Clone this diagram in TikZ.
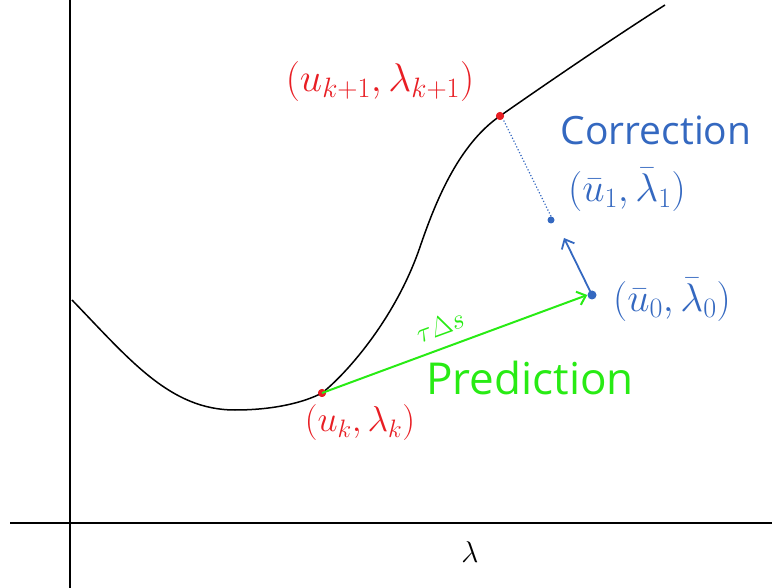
\RequirePackage{fix-cm}
\documentclass[tikz,border=0pt]{standalone}
\usepackage{fontspec}
\setmainfont{Open Sans}
\usetikzlibrary{arrows.meta}
\definecolor{hred}{RGB}{232,30,36}
\definecolor{hblue}{RGB}{52,104,192}
\definecolor{hgreen}{RGB}{40,235,20}
\tikzset{
  axisline/.style={line width=2.6pt,black},
  curveline/.style={line width=1.5pt,black},
  ptdot/.style={circle,fill,inner sep=0pt,minimum size=8pt},
  fs/.style={font=\fontsize{#1}{#1}\selectfont},
}
\begin{document}
\begin{tikzpicture}[x=1pt,y=-1pt]
\useasboundingbox (0,0) rectangle (772,588);
% axes
\coordinate (yt) at (70,0);
\coordinate (yb) at (70,588);
\coordinate (xl) at (10,523);
\coordinate (xr) at (772,523);
\draw[axisline] (yt) -- (yb);
\draw[axisline] (xl) -- (xr);
\node[fs=30] (lam) at (470,552) {$\lambda$};
% points
\node[ptdot,hred] (pk) at (322,393) {};
\node[ptdot,hred] (pk1) at (500,116) {};
\node[ptdot,hblue,minimum size=9pt] (p0) at (592,295) {};
\node[ptdot,hblue,minimum size=7pt] (p1) at (551,220) {};
% curve
\coordinate (c0) at (72,300);
\coordinate (cmin) at (235,410);
\coordinate (cmid) at (420,247);
\coordinate (cend) at (665,5);
\draw[curveline] (c0) .. controls (130,360) and (170,410) .. (cmin)
  .. controls (275,410) and (305,402) .. (pk.center)
  .. controls (345,375) and (395,320) .. (cmid)
  .. controls (435,203) and (458,145) .. (pk1.center)
  .. controls (540,88) and (610,40) .. (cend);
\node[ptdot,hred] at (pk) {};
\node[ptdot,hred] at (pk1) {};
% prediction
\draw[hgreen,line width=2pt,-{Straight Barb[length=8pt,width=14pt]}] (pk.center) -- (p0.west);
\node[hgreen,fs=28,rotate=20] (tds) at (440,326) {$\tau\Delta s$};
\node[hgreen,fs=44] (pred) at (530,378) {Prediction};
% correction
\draw[hblue,line width=1.8pt,-{Straight Barb[length=8pt,width=14pt]}] (p0.center) -- (564,238);
\draw[hblue,line width=1.2pt,dotted] (p1.north) -- (pk1.south east);
\node[hblue,fs=39] (corr) at (656,130) {Correction};
\node[hblue,fs=40] (l1) at (627,190) {$(\bar u_1,\bar\lambda_1)$};
\node[hblue,fs=40] (l0) at (672,300) {$(\bar u_0,\bar\lambda_0)$};
% red labels
\node[hred,fs=40] (lk1) at (380,82) {$(u_{k+1},\lambda_{k+1})$};
\node[hred,fs=36] (lk) at (360,423) {$(u_k,\lambda_k)$};
\end{tikzpicture}
\end{document}
